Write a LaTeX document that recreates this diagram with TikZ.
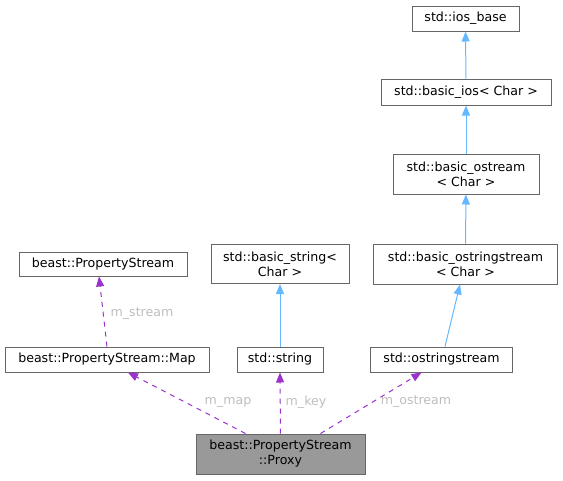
\documentclass[tikz,border=0pt]{standalone}
\usepackage{fontspec}
\setmainfont{DejaVu Sans}
\usetikzlibrary{arrows.meta,positioning}
\definecolor{box-draw}{HTML}{666666}
\definecolor{proxy-fill}{HTML}{999999}
\definecolor{use-edge}{HTML}{9A32CD}
\definecolor{inh-edge}{HTML}{63B8FF}
\definecolor{lbl-grey}{HTML}{BEBEBE}

\begin{document}
\begin{tikzpicture}[
 x=1pt, y=-1pt,
 font=\fontsize{12.6}{15}\selectfont,
 cls/.style={draw=box-draw, line width=1pt, fill=white, align=center, inner sep=0pt},
 inh/.style={inh-edge, line width=1pt, -{Triangle[length=10pt,width=8pt]}},
 use/.style={use-edge, line width=1pt, dash pattern=on 5pt off 5pt, -{Triangle[length=10pt,width=8pt]}},
 lbl/.style={text=lbl-grey},
]
 \useasboundingbox (0,0) rectangle (563,480);
 %
 \node[cls, minimum width=107pt, minimum height=25pt] (iosbase) at (465.5,18.5) {std::ios\_base};
 \node[cls, minimum width=170pt, minimum height=26pt] (basicios) at (466,92) {std::basic\_ios< Char >};
 \node[cls, minimum width=146pt, minimum height=40pt] (basicostream) at (466,174) {std::basic\_ostream\\< Char >};
 \node[cls, minimum width=184pt, minimum height=40pt] (basicostringstream) at (465.5,264) {std::basic\_ostringstream\\< Char >};
 \node[cls, minimum width=142pt, minimum height=25pt] (ostringstream) at (441.5,359.5) {std::ostringstream};
 %
 \node[cls, minimum width=138pt, minimum height=39pt] (basicstring) at (280,264) {std::basic\_string<\\Char >};
 \node[cls, minimum width=86pt, minimum height=25pt] (string) at (280,359.5) {std::string};
 %
 \node[cls, minimum width=168pt, minimum height=24pt] (propstream) at (103,264) {beast::PropertyStream};
 \node[cls, minimum width=204pt, minimum height=25pt] (propmap) at (107,359.5) {beast::PropertyStream::Map};
 %
 \node[cls, fill=proxy-fill, minimum width=169pt, minimum height=40pt] (proxy) at (280.5,454) {beast::PropertyStream\\::Proxy};

 %
 \draw[inh] (basicios) -- (iosbase);
 \draw[inh] (basicostream) -- (basicios);
 \draw[inh] (basicostringstream) -- (basicostream);
 \draw[inh] ([xshift=3.5pt]ostringstream.north) -- ([xshift=-5.5pt]basicostringstream.south);
 \draw[inh] (string) -- (basicstring);

 %
 \draw[use] (propmap.north) -- ([xshift=-4pt]propstream.south);
 \node[lbl] (lblstream) at (142,314) {m\_stream};
 \draw[use] ([xshift=-35pt]proxy.north) -- ([xshift=21pt]propmap.south);
 \node[lbl] (lblmap) at (228,402) {m\_map};
 \draw[use] (proxy.north) -- (string.south);
 \node[lbl] (lblkey) at (306,402) {m\_key};
 \draw[use] ([xshift=40pt]proxy.north) -- ([xshift=-20pt]ostringstream.south);
 \node[lbl] (lblostream) at (416,402) {m\_ostream};
\end{tikzpicture}
\end{document}
